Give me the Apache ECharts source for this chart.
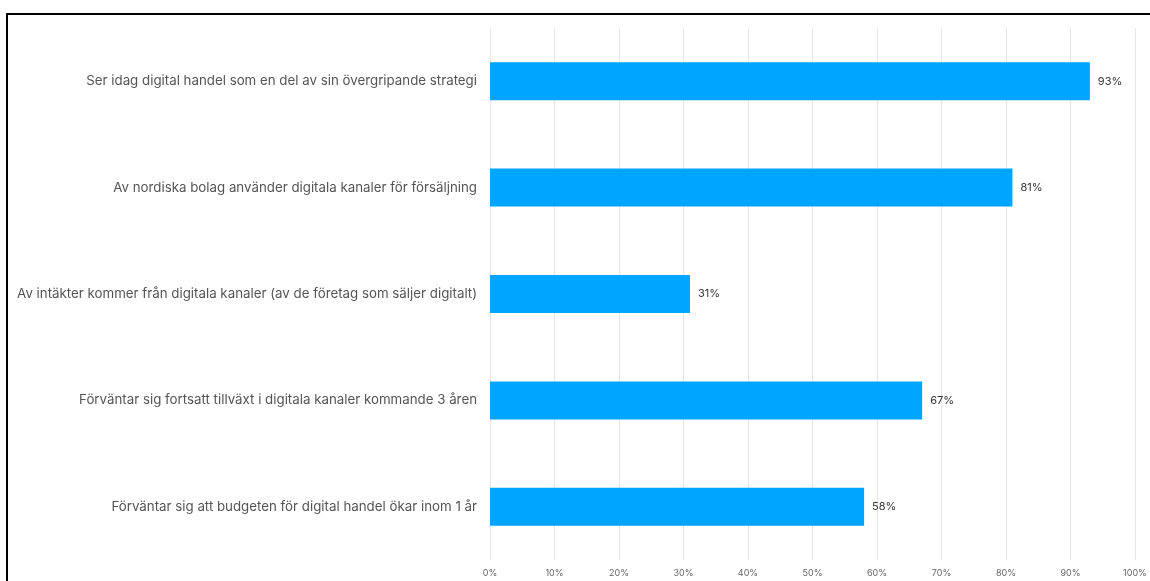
<!DOCTYPE html>
<html>
<head>
<meta charset="utf-8">
<script src="https://cdn.jsdelivr.net/npm/echarts@6/dist/echarts.min.js"></script>
<style>
  html, body { margin: 0; padding: 0; background: #fff; overflow: hidden; }
  #chart { position: absolute; left: 0; top: 0; width: 1150px; height: 581px; }
  #frame { position: absolute; left: 6px; top: 13px; width: 1300px; height: 800px;
           border: 2px solid #000; pointer-events: none; }
</style>
</head>
<body>
<div id="chart"></div>
<div id="frame"></div>
<script>
// kategorier, uppifrån och ned
var categories = [
  'Ser idag digital handel som en del av sin övergripande strategi',
  'Av nordiska bolag använder digitala kanaler för försäljning',
  'Av intäkter kommer från digitala kanaler (av de företag som säljer digitalt)',
  'Förväntar sig fortsatt tillväxt i digitala kanaler kommande 3 åren',
  'Förväntar sig att budgeten för digital handel ökar inom 1 år'
];
var values = [93, 81, 31, 67, 58];
var tickValues = [0, 10, 20, 30, 40, 50, 60, 70, 80, 90, 100];

var chart = echarts.init(document.getElementById('chart'));
var option = {
  animation: false,
  textStyle: { fontFamily: 'Inter, Roboto, sans-serif' },
  grid: { left: 490, right: 15, top: 28, bottom: 21, containLabel: false },
  xAxis: {
    type: 'value',
    min: tickValues[0],
    max: tickValues[tickValues.length - 1],
    interval: 10,
    axisLine: { show: false },
    axisTick: { show: false },
    axisLabel: {
      color: '#666',
      fontSize: 9,
      margin: 9,
      formatter: function (v) { return v + '%'; }
    },
    splitLine: { lineStyle: { color: '#e6e6e6', width: 1 } }
  },
  yAxis: {
    type: 'category',
    inverse: true,
    data: categories,
    axisLine: { show: false },
    axisTick: { show: false },
    axisLabel: { color: '#555', fontSize: 13.3, margin: 13 }
  },
  series: [{
    type: 'bar',
    data: values,
    barWidth: 38,
    itemStyle: { color: '#00a5ff' },
    label: {
      show: true,
      position: 'right',
      distance: 8,
      color: '#333',
      fontSize: 11,
      formatter: function (p) { return p.value + '%'; }
    }
  }]
};
chart.setOption(option);
</script>
</body>
</html>
